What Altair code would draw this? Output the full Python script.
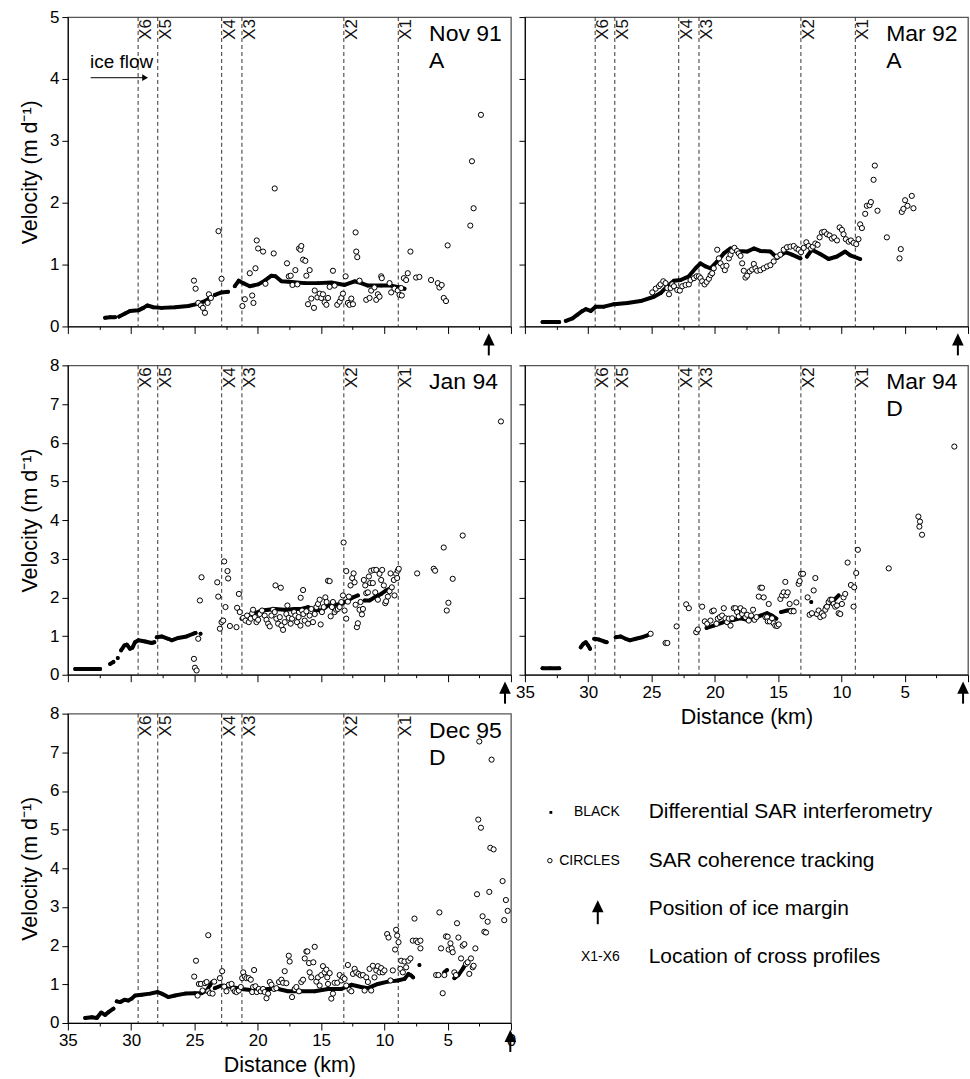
import altair as alt
import pandas as pd

FONT = "Liberation Sans"

# ---------------- shared values ----------------
PROFILE_KM = [29.45, 27.9, 22.85, 21.25, 13.2, 8.9]
PROFILE_LABELS = ["X6", "X5", "X4", "X3", "X2", "X1"]
X_TICKS = [0, 2.5, 5, 7.5, 10, 12.5, 15, 17.5, 20, 22.5, 25, 27.5, 30, 32.5, 35]
Y_TICKS_5 = [0, 0.5, 1, 1.5, 2, 2.5, 3, 3.5, 4, 4.5, 5]
Y_TICKS_8 = [0, 0.5, 1, 1.5, 2, 2.5, 3, 3.5, 4, 4.5, 5, 5.5, 6, 6.5, 7, 7.5, 8]

# ---------------- Nov 91 ----------------
NOV91_INSAR = [
    [(32.06, 0.14), (31.66, 0.15), (31.27, 0.15)],
    [(30.95, 0.16), (30.48, 0.21), (30.09, 0.25), (29.43, 0.26), (29.04, 0.30), (28.72, 0.34),
     (28.25, 0.31), (27.59, 0.30), (26.54, 0.31), (25.49, 0.33), (24.83, 0.36), (24.17, 0.41),
     (23.78, 0.46)],
    [(23.39, 0.51), (22.86, 0.55), (22.34, 0.56)],
    [(21.81, 0.65), (21.50, 0.74), (21.15, 0.70), (20.63, 0.65), (19.97, 0.68), (19.45, 0.74),
     (18.92, 0.82), (18.60, 0.81), (18.13, 0.73), (17.34, 0.72), (16.29, 0.70), (15.24, 0.70),
     (14.19, 0.71), (13.14, 0.67), (12.35, 0.73), (11.83, 0.70), (11.30, 0.66), (10.25, 0.66),
     (9.46, 0.66), (8.80, 0.63), (8.41, 0.61)],
]
NOV91_TRACK = [
    (25.04, 0.74), (24.91, 0.61), (24.70, 0.38), (24.49, 0.34), (24.33, 0.30), (24.17, 0.22),
    (23.96, 0.38), (23.86, 0.52), (23.70, 0.46), (23.10, 1.54), (22.86, 0.77), (21.21, 0.33),
    (21.02, 0.44), (20.63, 0.86), (20.44, 0.50), (20.34, 0.38), (20.18, 0.94), (20.08, 1.39),
    (19.97, 1.26), (19.58, 1.21), (19.39, 0.69), (18.74, 1.18), (18.66, 2.23), (17.69, 1.02),
    (17.55, 0.81), (17.40, 0.82), (17.26, 0.67), (17.03, 0.91), (16.87, 0.68), (16.74, 1.26),
    (16.63, 1.24), (16.56, 1.30), (16.42, 1.08), (16.24, 1.06), (16.16, 0.82), (16.03, 0.36),
    (15.90, 0.91), (15.77, 0.45), (15.56, 0.30), (15.50, 0.58), (15.29, 0.47), (15.11, 0.53),
    (14.98, 0.46), (14.85, 0.52), (14.72, 0.39), (14.58, 0.35), (14.45, 0.46), (14.32, 0.64),
    (14.06, 0.90), (13.93, 0.66), (13.72, 0.35), (13.53, 0.40), (13.40, 0.46), (13.27, 0.53),
    (13.06, 0.81), (12.88, 0.38), (12.75, 0.35), (12.61, 0.45), (12.48, 0.36), (12.27, 1.52),
    (12.22, 1.21), (12.14, 1.12), (11.96, 0.74), (11.43, 0.43), (11.17, 0.46), (11.04, 0.58),
    (10.78, 0.63), (10.64, 0.43), (10.51, 0.52), (10.38, 0.48), (10.25, 0.81), (10.20, 0.78),
    (9.59, 0.70), (9.46, 0.55), (9.20, 0.61), (8.94, 0.58), (8.80, 0.51), (8.67, 0.62),
    (8.62, 0.50), (8.46, 0.78), (8.28, 0.75), (8.15, 0.86), (7.94, 1.21), (7.49, 0.79),
    (7.23, 0.80), (6.31, 0.75), (5.78, 0.70), (5.65, 0.63), (5.47, 0.67), (5.31, 0.46),
    (5.13, 0.41), (5.00, 1.31), (3.21, 1.63), (3.08, 2.67), (2.95, 1.91), (2.37, 3.42),
]
NOV91_MARGIN = 1.75

# ---------------- Mar 92 ----------------
MAR92_INSAR = [
    [(33.61, 0.07), (32.95, 0.07), (32.29, 0.07)],
    [(31.77, 0.09), (31.24, 0.13), (30.85, 0.19), (30.45, 0.25), (30.19, 0.28), (29.80, 0.25),
     (29.40, 0.32), (28.75, 0.32), (27.96, 0.36), (26.91, 0.38), (25.86, 0.41), (24.81, 0.48),
     (24.28, 0.54), (23.75, 0.65), (23.23, 0.74), (22.70, 0.75), (22.05, 0.81), (21.52, 0.94),
     (21.13, 1.02), (20.73, 0.97), (20.34, 0.94), (19.81, 1.05), (19.29, 1.18), (18.76, 1.26),
     (18.24, 1.22), (17.45, 1.21), (16.92, 1.26), (16.40, 1.22), (15.61, 1.21), (15.08, 1.11),
     (14.43, 1.20), (13.90, 1.16), (13.24, 1.10)],
    [(12.72, 1.13), (12.33, 1.24), (11.67, 1.17), (11.01, 1.09), (10.35, 1.13), (9.70, 1.21),
     (9.30, 1.15), (8.52, 1.09)],
]
MAR92_TRACK = [
    (24.94, 0.55), (24.67, 0.61), (24.41, 0.65), (24.28, 0.68), (24.07, 0.73), (23.89, 0.70),
    (23.75, 0.62), (23.62, 0.52), (23.49, 0.62), (23.36, 0.68), (23.23, 0.65), (22.97, 0.59),
    (22.76, 0.58), (22.57, 0.65), (22.31, 0.67), (22.05, 0.68), (21.92, 0.75), (21.65, 0.78),
    (21.44, 0.81), (21.26, 0.81), (21.13, 0.78), (21.00, 0.73), (20.81, 0.68), (20.65, 0.72),
    (20.47, 0.77), (20.34, 0.83), (20.21, 0.86), (20.08, 0.94), (19.81, 1.24), (19.68, 1.10),
    (19.55, 1.02), (19.34, 0.97), (19.21, 0.91), (19.08, 0.98), (18.89, 1.10), (18.76, 1.16),
    (18.63, 1.22), (18.45, 1.27), (18.24, 1.22), (18.11, 1.18), (17.97, 1.14), (17.84, 1.02),
    (17.71, 0.90), (17.58, 0.79), (17.45, 0.82), (17.24, 0.89), (17.05, 0.92), (16.92, 1.01),
    (16.79, 0.94), (16.66, 0.90), (16.40, 0.91), (16.14, 0.94), (15.87, 0.97), (15.61, 0.99),
    (15.35, 1.05), (15.08, 1.13), (14.82, 1.16), (14.56, 1.24), (14.30, 1.28), (14.03, 1.29),
    (13.77, 1.30), (13.56, 1.26), (13.38, 1.24), (13.19, 1.20), (12.98, 1.27), (12.77, 1.36),
    (12.59, 1.30), (12.40, 1.26), (12.25, 1.29), (12.06, 1.34), (11.88, 1.32), (11.72, 1.44),
    (11.54, 1.52), (11.35, 1.53), (11.14, 1.49), (10.93, 1.47), (10.75, 1.42), (10.57, 1.44),
    (10.35, 1.39), (10.14, 1.60), (9.96, 1.56), (9.83, 1.49), (9.65, 1.41), (9.43, 1.37),
    (9.25, 1.39), (9.04, 1.35), (8.83, 1.33), (8.65, 1.41), (8.52, 1.65), (8.38, 1.59),
    (8.12, 1.82), (7.99, 1.95), (7.78, 1.96), (7.67, 2.01), (7.46, 2.37), (7.36, 2.60),
    (7.15, 1.87), (6.41, 1.44), (5.41, 1.10), (5.31, 1.25), (5.23, 1.85), (5.10, 1.90),
    (4.97, 2.04), (4.78, 1.95), (4.44, 2.11), (4.31, 1.91),
]
MAR92_MARGIN = 0.8

# ---------------- Jan 94 ----------------
JAN94_INSAR = [
    [(34.42, 0.15), (33.80, 0.15), (33.10, 0.15), (32.45, 0.15)],
    [(31.66, 0.28), (31.40, 0.33)],
    [(31.06, 0.43)],
    [(30.80, 0.63), (30.53, 0.76), (30.35, 0.78), (30.09, 0.67), (29.90, 0.70), (29.69, 0.84),
     (29.43, 0.89), (28.90, 0.86), (28.38, 0.82), (28.17, 0.84)],
    [(27.98, 0.97), (27.59, 0.99), (27.07, 0.93), (26.80, 0.89), (26.28, 0.95), (25.62, 0.99),
     (25.09, 1.06), (24.91, 1.08)],
    [(24.52, 1.06)],
    [(21.28, 1.45), (20.76, 1.53), (20.23, 1.59), (19.71, 1.66), (19.18, 1.68), (18.66, 1.70),
     (17.87, 1.68), (17.08, 1.70), (16.56, 1.70), (16.03, 1.75), (15.50, 1.68), (14.98, 1.66),
     (14.45, 1.79), (13.93, 1.81), (13.40, 1.83), (12.88, 1.92), (12.48, 2.00), (12.09, 2.05)],
    [(11.56, 1.92), (11.17, 1.92), (10.78, 2.00), (10.25, 2.09), (9.86, 2.18), (9.59, 2.22)],
]
JAN94_TRACK = [
    (25.04, 0.41), (24.96, 0.18), (24.83, 0.11), (24.70, 0.93), (24.57, 1.92), (24.44, 2.52),
    (23.20, 2.39), (23.12, 2.02), (22.99, 1.19), (22.86, 1.36), (22.73, 1.40), (22.65, 2.93),
    (22.55, 1.75), (22.39, 2.68), (22.34, 2.49), (22.20, 1.26), (21.68, 1.23), (21.63, 1.73),
    (21.49, 2.09), (21.42, 1.62), (21.15, 1.47), (20.97, 1.40), (20.84, 1.53), (20.71, 1.36),
    (20.55, 1.45), (20.44, 1.59), (20.37, 1.68), (20.23, 1.49), (20.10, 1.36), (19.97, 1.42),
    (19.84, 1.57), (19.66, 1.66), (19.45, 1.53), (19.31, 1.42), (19.18, 1.32), (19.05, 1.25),
    (18.92, 1.53), (18.79, 1.68), (18.66, 1.62), (18.60, 2.31), (18.53, 1.45), (18.39, 1.32),
    (18.26, 1.49), (18.18, 2.25), (18.13, 1.27), (18.00, 1.16), (17.87, 1.36), (17.74, 1.57),
    (17.66, 1.79), (17.55, 1.47), (17.40, 1.32), (17.29, 1.45), (17.13, 1.62), (17.03, 1.53),
    (16.90, 1.36), (16.77, 1.49), (16.63, 1.27), (16.61, 1.99), (16.50, 1.66), (16.42, 2.19),
    (16.40, 1.57), (16.29, 1.40), (16.16, 1.64), (16.03, 1.32), (15.90, 1.53), (15.77, 1.70),
    (15.64, 1.36), (15.50, 1.57), (15.37, 1.75), (15.24, 1.83), (15.11, 1.94), (15.03, 1.30),
    (14.93, 1.62), (14.79, 1.75), (14.66, 2.00), (14.56, 1.88), (14.45, 2.43), (14.32, 2.42),
    (14.24, 1.51), (14.14, 1.75), (14.06, 1.88), (13.93, 1.62), (13.80, 1.68), (13.67, 1.70),
    (13.53, 1.75), (13.40, 1.88), (13.27, 2.05), (13.22, 3.42), (13.14, 1.66), (13.01, 2.68),
    (13.01, 1.45), (12.88, 1.89), (12.80, 2.02), (12.67, 2.31), (12.54, 2.50), (12.43, 2.62),
    (12.35, 2.39), (12.27, 1.81), (12.17, 1.23), (12.09, 1.33), (11.96, 1.68), (11.88, 1.88),
    (11.77, 1.56), (11.69, 1.70), (11.62, 2.45), (11.51, 2.31), (11.43, 2.11), (11.30, 2.13),
    (11.22, 2.54), (11.12, 2.37), (11.04, 2.69), (10.91, 2.37), (10.83, 2.71), (10.72, 2.13),
    (10.64, 2.71), (10.51, 1.94), (10.38, 2.61), (10.25, 2.45), (10.17, 2.71), (10.04, 2.31),
    (9.93, 1.85), (9.86, 1.90), (9.72, 2.02), (9.59, 2.16), (9.51, 2.62), (9.41, 2.26),
    (9.25, 2.45), (9.20, 2.05), (9.07, 2.61), (8.99, 2.50), (8.94, 2.69), (8.86, 2.74),
    (7.41, 2.62), (6.10, 2.74), (5.99, 2.69), (5.31, 3.29), (5.07, 1.66), (4.94, 1.86),
    (4.60, 2.48), (3.81, 3.60), (0.79, 6.55),
]
JAN94_MARGIN = 0.47

# ---------------- Mar 94 ----------------
MAR94_INSAR = [
    [(33.61, 0.17), (33.00, 0.17), (32.29, 0.17)],
    [(30.59, 0.71), (30.38, 0.80), (30.19, 0.84), (30.01, 0.76), (29.85, 0.67)],
    [(29.53, 0.93), (29.14, 0.91), (28.75, 0.86), (28.54, 0.84)],
    [(27.83, 0.97), (27.43, 0.99), (27.04, 0.93), (26.70, 0.89), (26.25, 0.93), (25.73, 0.97),
     (25.33, 1.02), (25.07, 1.06)],
    [(20.65, 1.21), (20.08, 1.27), (19.29, 1.36), (18.50, 1.42), (17.97, 1.46), (17.45, 1.42),
     (16.92, 1.46), (16.40, 1.53), (15.87, 1.59), (15.48, 1.53), (15.14, 1.45)],
    [(14.77, 1.62), (14.30, 1.66), (13.77, 1.68)],
    [(12.38, 1.88)],
    [(11.27, 1.75), (11.01, 1.83), (10.62, 1.92), (10.22, 2.05)],
]
MAR94_TRACK = [
    (25.07, 1.06), (23.89, 0.82), (23.75, 0.82), (23.02, 1.25), (22.26, 1.82), (22.05, 1.72),
    (21.47, 1.10), (21.34, 1.17), (21.00, 1.76), (20.79, 1.38), (20.60, 1.32), (20.34, 1.40),
    (20.21, 1.64), (20.08, 1.66), (19.87, 1.32), (19.76, 1.45), (19.60, 1.49), (19.42, 1.53),
    (19.29, 1.72), (19.16, 1.46), (19.03, 1.36), (18.89, 1.45), (18.76, 1.27), (18.63, 1.46),
    (18.50, 1.72), (18.37, 1.72), (18.24, 1.62), (18.11, 1.51), (17.97, 1.72), (17.84, 1.57),
    (17.71, 1.66), (17.58, 1.49), (17.45, 1.55), (17.32, 1.40), (17.13, 1.53), (16.98, 1.68),
    (16.87, 1.42), (16.71, 1.49), (16.53, 2.02), (16.40, 2.25), (16.27, 2.25), (16.14, 2.00),
    (16.00, 1.49), (15.87, 1.49), (15.82, 1.38), (15.74, 1.83), (15.66, 1.38), (15.48, 1.46),
    (15.35, 1.33), (15.22, 1.27), (15.08, 1.26), (14.95, 1.30), (14.82, 1.96), (14.69, 2.05),
    (14.56, 2.13), (14.43, 2.40), (14.35, 2.05), (14.24, 2.13), (14.09, 1.83), (13.98, 1.64),
    (13.77, 1.64), (13.56, 1.87), (13.38, 2.35), (13.30, 2.42), (13.19, 2.61), (13.03, 2.61),
    (12.67, 2.00), (12.51, 1.55), (12.33, 1.59), (12.19, 2.18), (12.06, 2.50), (11.93, 1.57),
    (11.80, 1.66), (11.67, 1.49), (11.54, 1.59), (11.41, 1.53), (11.27, 1.68), (11.14, 1.76),
    (11.01, 1.88), (10.88, 1.94), (10.75, 1.94), (10.62, 1.83), (10.49, 1.76), (10.35, 1.79),
    (10.22, 1.59), (10.09, 1.57), (9.96, 1.83), (9.83, 2.00), (9.70, 2.09), (9.51, 2.90),
    (9.25, 2.32), (9.04, 1.76), (8.99, 2.26), (8.83, 2.63), (8.70, 3.23), (6.26, 2.75),
    (3.92, 4.09), (3.84, 3.83), (3.79, 3.96), (3.63, 3.62), (1.08, 5.90),
]
MAR94_MARGIN = 0.39

# ---------------- Dec 95 ----------------
DEC95_INSAR = [
    [(33.63, 0.13), (33.11, 0.15), (32.71, 0.13), (32.37, 0.27), (32.06, 0.21), (31.79, 0.28),
     (31.40, 0.37)],
    [(31.14, 0.56), (30.87, 0.54), (30.53, 0.60), (30.22, 0.58), (29.96, 0.63), (29.69, 0.71),
     (29.17, 0.73), (28.51, 0.76), (27.91, 0.80), (27.59, 0.76), (27.07, 0.67), (26.54, 0.71),
     (25.75, 0.76), (24.96, 0.77), (24.44, 0.77), (24.04, 0.84), (23.78, 0.97), (23.60, 1.06)],
    [(23.39, 0.90), (22.86, 0.97), (22.07, 0.93), (21.28, 0.88), (20.23, 0.84), (19.18, 0.88),
     (18.39, 0.88), (17.61, 0.82), (16.56, 0.82), (15.50, 0.82), (14.45, 0.88), (13.40, 0.88),
     (12.61, 0.99), (11.83, 0.93), (11.30, 0.90), (10.51, 1.01), (9.72, 1.07), (8.94, 1.10),
     (8.41, 1.14), (8.10, 1.27), (7.88, 1.23), (7.73, 1.18)],
    [(7.23, 1.50)],
    [(5.26, 1.31), (5.05, 1.37)],
    [(4.47, 1.16), (4.15, 1.24), (3.81, 1.40), (3.68, 1.47)],
]
DEC95_TRACK = [
    (25.02, 1.20), (24.88, 1.61), (24.75, 0.71), (24.65, 1.01), (24.49, 1.01), (24.36, 0.84),
    (24.17, 1.03), (24.04, 1.06), (23.91, 0.82), (23.91, 2.27), (23.78, 0.77), (23.57, 0.76),
    (23.44, 1.07), (22.99, 1.16), (22.81, 1.34), (22.65, 0.94), (22.47, 0.82), (22.28, 0.99),
    (22.07, 1.01), (21.94, 0.88), (21.81, 0.82), (21.68, 0.80), (21.50, 0.84), (21.34, 0.93),
    (21.23, 1.16), (21.15, 1.31), (21.02, 1.20), (20.89, 1.16), (20.71, 1.16), (20.55, 1.12),
    (20.44, 0.80), (20.37, 0.93), (20.29, 1.37), (20.18, 0.95), (20.08, 0.80), (19.92, 0.88),
    (19.76, 0.82), (19.58, 0.88), (19.45, 0.80), (19.31, 0.64), (19.18, 0.76), (19.05, 1.06),
    (18.92, 0.99), (18.71, 0.88), (18.53, 0.90), (18.32, 1.06), (18.13, 1.12), (18.00, 1.04),
    (17.87, 1.34), (17.74, 1.03), (17.55, 1.74), (17.48, 1.59), (17.29, 0.67), (17.08, 0.88),
    (16.95, 0.93), (16.74, 0.82), (16.56, 1.06), (16.42, 1.12), (16.29, 1.67), (16.16, 1.85),
    (16.08, 1.85), (15.95, 1.55), (15.90, 1.31), (15.77, 1.18), (15.61, 1.57), (15.50, 1.97),
    (15.37, 1.07), (15.24, 1.18), (15.11, 0.97), (14.98, 1.24), (14.85, 1.47), (14.72, 1.31),
    (14.58, 1.38), (14.51, 1.18), (14.45, 1.01), (14.32, 1.29), (14.19, 0.63), (14.06, 0.76),
    (13.93, 1.04), (13.72, 1.04), (13.53, 1.24), (13.40, 1.10), (13.27, 1.18), (13.14, 1.14),
    (13.01, 0.97), (12.88, 1.50), (12.75, 0.86), (12.61, 0.82), (12.48, 1.27), (12.35, 1.40),
    (12.22, 1.31), (12.04, 1.27), (11.88, 1.23), (11.69, 1.24), (11.56, 0.84), (11.43, 1.18),
    (11.30, 1.06), (11.17, 1.40), (11.04, 0.84), (10.91, 1.48), (10.78, 1.18), (10.64, 1.36),
    (10.51, 1.47), (10.38, 1.31), (10.25, 1.42), (10.12, 1.31), (9.99, 1.36), (9.78, 2.30),
    (9.67, 2.21), (9.51, 1.10), (9.33, 1.36), (9.15, 1.90), (9.07, 2.41), (8.99, 2.26),
    (8.88, 2.09), (8.73, 1.40), (8.67, 1.61), (8.54, 1.31), (8.41, 1.59), (8.28, 1.44),
    (8.10, 1.61), (7.94, 1.67), (7.75, 2.13), (7.62, 2.70), (7.49, 2.13), (7.36, 2.09),
    (7.15, 2.13), (7.15, 1.93), (5.91, 1.24), (5.73, 1.24), (5.65, 2.86), (5.52, 1.93),
    (5.39, 0.77), (5.26, 1.24), (5.13, 2.24), (5.00, 2.23), (4.92, 1.90), (4.78, 2.06),
    (4.68, 1.93), (4.60, 1.83), (4.47, 1.31), (4.34, 1.24), (4.26, 2.58), (4.15, 2.21),
    (3.94, 1.67), (3.81, 2.00), (3.68, 2.04), (3.55, 1.53), (3.42, 1.57), (3.29, 1.27),
    (3.16, 1.67), (3.02, 1.44), (2.95, 1.48), (2.81, 1.93), (2.68, 3.33), (2.58, 5.26),
    (2.50, 7.28), (2.37, 5.05), (2.24, 2.76), (2.10, 2.36), (1.97, 2.34), (1.84, 2.62),
    (1.71, 3.39), (1.63, 4.53), (1.53, 6.81), (1.37, 4.49), (0.66, 3.67), (0.53, 2.66),
    (0.40, 3.18), (0.26, 2.90),
]
DEC95_MARGIN = 0.05

# ice-flow annotation (Nov 91 panel)
ICE_FLOW_TEXT = "ice flow"
ICE_FLOW_TEXT_POS = (30.75, 4.18)
ICE_FLOW_ARROW = (33.2, 28.9, 4.02)

# legend
LEGEND_KEYS = ["BLACK", "CIRCLES", "", "X1-X6"]
LEGEND_TEXTS = ["Differential SAR interferometry", "SAR coherence tracking",
                "Position of ice margin", "Location of cross profiles"]

PANEL_W, PANEL_H = 444, 310
TRI_UP = "M0,-1L-0.95,1L0.95,1Z"


def insar_frame(segments):
    rows = []
    for i, seg in enumerate(segments):
        for km, v in seg:
            rows.append({"km": km, "v": v, "seg": i})
    return pd.DataFrame(rows)


def track_frame(points):
    return pd.DataFrame({"km": [p[0] for p in points], "v": [p[1] for p in points]})


def panel(label_lines, ymax, insar, track, margin_km, show_y, show_x, ice_flow=False,
          hide_zero=False):
    xscale = alt.Scale(domain=[0, 35], reverse=True, nice=False, zero=False)
    yscale = alt.Scale(domain=[0, ymax], nice=False)
    xlab = ("datum.value % 5 === 0 && datum.value > 0 ? datum.label : ''" if hide_zero
            else "datum.value % 5 === 0 ? datum.label : ''")
    xaxis_kw = dict(
        values=X_TICKS, grid=False, labels=show_x, labelOverlap=False, labelFlush=False,
        labelExpr=xlab, format="d",
        tickSize={"condition": {"test": "datum.value % 5 === 0", "value": 7}, "value": 3},
        labelPadding=3, titlePadding=6,
    )
    xaxis_kw["title"] = "Distance (km)" if show_x else None
    yaxis_kw = dict(
        values=Y_TICKS_5 if ymax == 5 else Y_TICKS_8, grid=False, labels=show_y,
        labelOverlap=False, labelFlush=False, format="d",
        labelExpr="datum.value % 1 === 0 ? datum.label : ''",
        tickSize={"condition": {"test": "datum.value % 1 === 0", "value": 6}, "value": 3},
        labelPadding=3, titlePadding=8,
    )
    yaxis_kw["title"] = "Velocity (m d\u207b\u00b9)" if show_y else None
    X = alt.X("km:Q", scale=xscale, axis=alt.Axis(**xaxis_kw))
    Y = alt.Y("v:Q", scale=yscale, axis=alt.Axis(**yaxis_kw))

    prof = pd.DataFrame({"km": PROFILE_KM, "label": PROFILE_LABELS})
    layers = []
    layers.append(alt.Chart(prof).mark_rule(color="#333333", strokeWidth=1, strokeDash=[4, 3])
                  .encode(x=X))
    layers.append(alt.Chart(prof).mark_text(angle=270, align="right", baseline="top",
                                            fontSize=17, color="#111111", xOffset=0)
                  .encode(x=X, y=alt.value(2), text="label:N"))
    ins = insar_frame(insar)
    layers.append(alt.Chart(ins).mark_line(color="black", strokeWidth=4, strokeCap="round",
                                           strokeJoin="round")
                  .encode(x=X, y=Y, detail="seg:N"))
    layers.append(alt.Chart(ins).mark_circle(color="black", size=14, opacity=1)
                  .encode(x=X, y=Y))
    layers.append(alt.Chart(track_frame(track))
                  .mark_point(shape="circle", filled=True, fill="white", stroke="black",
                              strokeWidth=1, size=27, opacity=1)
                  .encode(x=X, y=Y))
    lab = pd.DataFrame({"t": [0]})
    layers.append(alt.Chart(lab).mark_text(text=label_lines, align="left", baseline="top",
                                           fontSize=23, lineHeight=27, color="black")
                  .encode(x=alt.value(362), y=alt.value(6)))
    mg = pd.DataFrame({"km": [margin_km]})
    layers.append(alt.Chart(mg).mark_rule(color="black", strokeWidth=2)
                  .encode(x=X, y=alt.value(PANEL_H + 17), y2=alt.value(PANEL_H + 29)))
    layers.append(alt.Chart(mg).mark_point(shape=TRI_UP, filled=True, color="black",
                                           size=150, opacity=1)
                  .encode(x=X, y=alt.value(PANEL_H + 13)))
    if ice_flow:
        tdf = pd.DataFrame({"km": [ICE_FLOW_TEXT_POS[0]], "v": [ICE_FLOW_TEXT_POS[1]],
                            "t": [ICE_FLOW_TEXT]})
        layers.append(alt.Chart(tdf).mark_text(fontSize=19, baseline="alphabetic",
                                               align="center", color="black")
                      .encode(x=X, y=Y, text="t:N"))
        adf = pd.DataFrame({"km": [ICE_FLOW_ARROW[0]], "km2": [ICE_FLOW_ARROW[1]],
                            "v": [ICE_FLOW_ARROW[2]]})
        layers.append(alt.Chart(adf).mark_rule(color="black", strokeWidth=1)
                      .encode(x=X, x2=alt.X2("km2:Q"), y=Y))
        hdf = pd.DataFrame({"km": [ICE_FLOW_ARROW[1]], "v": [ICE_FLOW_ARROW[2]]})
        layers.append(alt.Chart(hdf).mark_point(shape="triangle-right", filled=True,
                                                color="black", size=45, opacity=1)
                      .encode(x=X, y=Y))
    return alt.layer(*layers).properties(width=PANEL_W, height=PANEL_H)


p1 = panel(["Nov 91", "A"], 5, NOV91_INSAR, NOV91_TRACK, NOV91_MARGIN, True, False, ice_flow=True)
p2 = panel(["Mar 92", "A"], 5, MAR92_INSAR, MAR92_TRACK, MAR92_MARGIN, False, False)
p3 = panel(["Jan 94"], 8, JAN94_INSAR, JAN94_TRACK, JAN94_MARGIN, True, False)
p4 = panel(["Mar 94", "D"], 8, MAR94_INSAR, MAR94_TRACK, MAR94_MARGIN, False, True,
           hide_zero=True)
p5 = panel(["Dec 95", "D"], 8, DEC95_INSAR, DEC95_TRACK, DEC95_MARGIN, True, True)

# ---------------- legend panel ----------------
leg = pd.DataFrame({"row": [0, 1, 2, 3], "key": LEGEND_KEYS, "text": LEGEND_TEXTS})
rowY = alt.Y("row:Q", scale=alt.Scale(domain=[0, 3], range=[99, 244]), axis=None)
leg_layers = [
    alt.Chart(leg).mark_text(align="right", baseline="middle", fontSize=14, color="black")
    .encode(x=alt.value(95), y=rowY, text="key:N"),
    alt.Chart(leg).mark_text(align="left", baseline="middle", fontSize=21, color="black")
    .encode(x=alt.value(124), y=rowY, text="text:N"),
    alt.Chart(leg).transform_filter("datum.row === 0")
    .mark_point(shape="square", filled=True, color="black", size=8, opacity=1)
    .encode(x=alt.value(26), y=rowY),
    alt.Chart(leg).transform_filter("datum.row === 1")
    .mark_point(shape="circle", filled=True, fill="white", stroke="black", strokeWidth=1,
                size=20, opacity=1)
    .encode(x=alt.value(25), y=rowY),
    alt.Chart(leg).transform_filter("datum.row === 2")
    .mark_point(shape=TRI_UP, filled=True, color="black", size=150, opacity=1)
    .encode(x=alt.value(73), y=alt.value(193)),
    alt.Chart(leg).transform_filter("datum.row === 2")
    .mark_rule(color="black", strokeWidth=2)
    .encode(x=alt.value(73), y=alt.value(196), y2=alt.value(211)),
]
legend_panel = alt.layer(*leg_layers).properties(
    width=PANEL_W, height=PANEL_H, view=alt.ViewBackground(strokeOpacity=0)
)

chart = alt.concat(
    p1, p2, p3, p4, p5, legend_panel,
    columns=2, spacing={"row": 39, "column": 14}, bounds="flush",
).properties(
    padding={"left": 18, "top": 6, "right": 0, "bottom": 0}
).configure(
    font=FONT
).configure_view(
    stroke="#555555", strokeWidth=1.3
).configure_axis(
    domainColor="black", domainWidth=1, tickColor="black", tickWidth=1,
    labelColor="black", titleColor="black", labelFont=FONT, titleFont=FONT,
    labelFontSize=17, titleFontSize=21.5, titleFontWeight="normal"
)

chart.save("out.html", embed_options={"renderer": "svg", "actions": False})
